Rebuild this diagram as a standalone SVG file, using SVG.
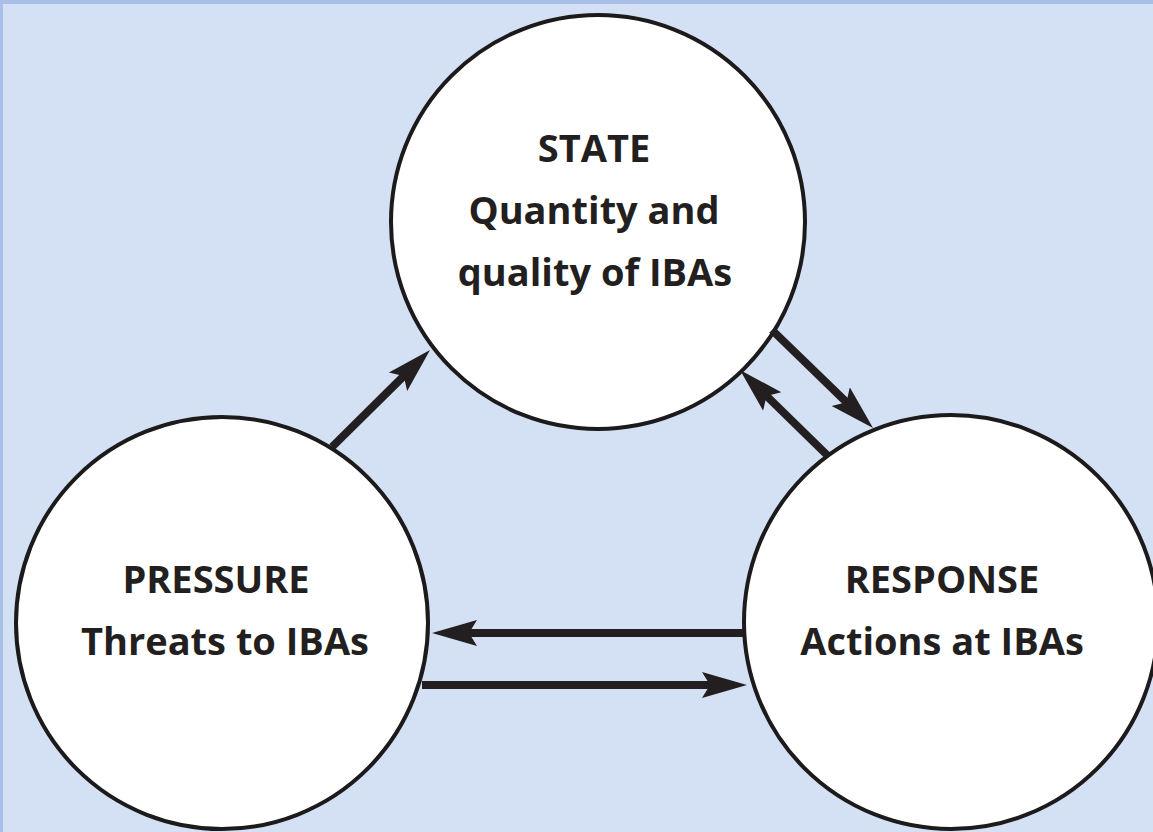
<svg xmlns="http://www.w3.org/2000/svg" width="1153" height="832" viewBox="0 0 1153 832">
<style>
.node circle{fill:#ffffff;stroke:#1c1a1b;stroke-width:4}
.lbl{font-family:"Open Sans","Liberation Sans",sans-serif;font-weight:700;font-size:38px;fill:#231f20;text-anchor:middle}
.arr{stroke:#231f20;stroke-width:8;fill:none;marker-end:url(#ah)}
</style>
<defs>
<marker id="ah" markerUnits="userSpaceOnUse" markerWidth="50" markerHeight="30" viewBox="0 -15 50 30" refX="15" refY="0" orient="auto">
<path d="M0,-13 L45,0 L0,13 L8,0 z" fill="#231f20"/>
</marker>
</defs>
<rect x="0" y="0" width="1153" height="832" fill="#d4e0f3"/>
<rect x="0" y="0" width="1153" height="4" fill="#a9bfe8"/>
<rect x="0" y="0" width="3" height="832" fill="#a9bfe8"/>
<g id="state" class="node">
<circle cx="598" cy="222" r="207"/>
<text class="lbl" x="594" y="162">STATE</text>
<text class="lbl" x="594" y="224">Quantity and</text>
<text class="lbl" x="595" y="286">quality of IBAs</text>
</g>
<g id="pressure" class="node">
<circle cx="222" cy="623" r="206"/>
<text class="lbl" x="216" y="593">PRESSURE</text>
<text class="lbl" x="225" y="655">Threats to IBAs</text>
</g>
<g id="response" class="node">
<circle cx="951" cy="622" r="207"/>
<text class="lbl" x="942" y="593">RESPONSE</text>
<text class="lbl" x="942" y="655">Actions at IBAs</text>
</g>
<g id="connectors">
<path class="arr" d="M743,633 L462,633"/>
<path class="arr" d="M422,685 L717,685"/>
<path class="arr" d="M332,447 L408.7,371.1"/>
<path class="arr" d="M772,330 L851.5,407.1"/>
<path class="arr" d="M827,455 L761.5,391"/>
</g>
</svg>
